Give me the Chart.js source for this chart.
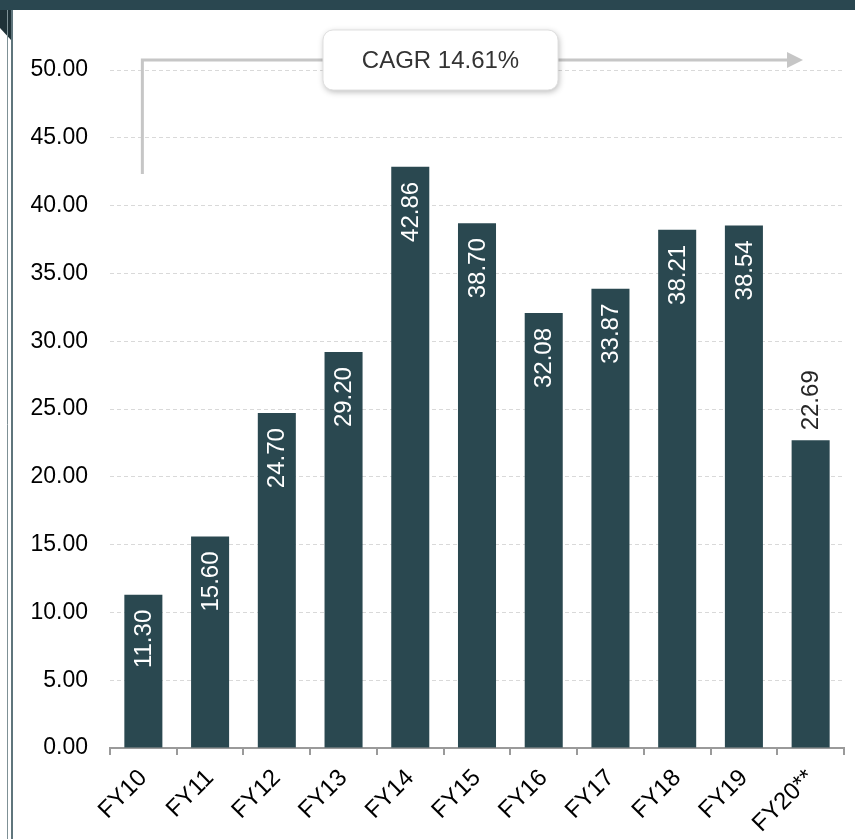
<!DOCTYPE html>
<html>
<head>
<meta charset="utf-8">
<script src="https://cdn.jsdelivr.net/npm/chart.js@4"></script>
<style>
  html, body { margin: 0; padding: 0; background: #ffffff; }
  #wrap { position: relative; width: 855px; height: 839px; }
</style>
</head>
<body>
<div id="wrap"><canvas id="c" width="855" height="839"></canvas></div>
<script>
const categories = ["FY10", "FY11", "FY12", "FY13", "FY14", "FY15", "FY16", "FY17", "FY18", "FY19", "FY20**"];
const values = [11.30, 15.60, 24.70, 29.20, 42.86, 38.70, 32.08, 33.87, 38.21, 38.54, 22.69];
const yTicks = [0, 5, 10, 15, 20, 25, 30, 35, 40, 45, 50];
const cagrText = "CAGR 14.61%";

const BAR = "#2a4850";
const FONT = "'Liberation Sans', Arial, sans-serif";

const decor = {
  id: "decor",
  beforeDraw(chart) {
    const ctx = chart.ctx;
    ctx.save();
    ctx.fillStyle = "#ffffff";
    ctx.fillRect(0, 0, chart.width, chart.height);
    ctx.fillStyle = "#2a4750";
    ctx.fillRect(0, 0, chart.width, 10);
    ctx.fillStyle = "#1f3238";
    ctx.beginPath();
    ctx.moveTo(0, 10);
    ctx.lineTo(11, 10);
    ctx.lineTo(11, 40);
    ctx.lineTo(0, 28);
    ctx.closePath();
    ctx.fill();
    ctx.strokeStyle = "#7f9196";
    ctx.lineWidth = 1;
    ctx.beginPath();
    ctx.moveTo(7.5, 10);
    ctx.lineTo(7.5, chart.height);
    ctx.stroke();
    ctx.strokeStyle = "#2a4750";
    ctx.lineWidth = 1.5;
    ctx.beginPath();
    ctx.moveTo(12, 10);
    ctx.lineTo(12, chart.height);
    ctx.stroke();
    ctx.restore();
  },
  afterDatasetsDraw(chart) {
    const ctx = chart.ctx;
    const meta = chart.getDatasetMeta(0);
    ctx.save();
    ctx.font = "24px " + FONT;
    ctx.textBaseline = "middle";
    meta.data.forEach((bar, i) => {
      const txt = values[i].toFixed(2);
      ctx.save();
      if (i === values.length - 1) {
        ctx.translate(bar.x + 1, bar.y - 10);
        ctx.rotate(-Math.PI / 2);
        ctx.textAlign = "left";
        ctx.fillStyle = "#262626";
      } else {
        ctx.translate(bar.x + 1, bar.y + 15);
        ctx.rotate(-Math.PI / 2);
        ctx.textAlign = "right";
        ctx.fillStyle = "#ffffff";
      }
      ctx.fillText(txt, 0, 0);
      ctx.restore();
    });
    ctx.restore();
  },
  afterDraw(chart) {
    const ctx = chart.ctx;
    const x0 = chart.scales.x.getPixelForValue(0) - 1;
    const yTop = 60;
    const yBot = 174;
    const xEnd = 803;
    ctx.save();
    ctx.strokeStyle = "#c6c6c6";
    ctx.lineWidth = 3;
    ctx.beginPath();
    ctx.moveTo(x0, yBot);
    ctx.lineTo(x0, yTop);
    ctx.lineTo(xEnd - 14, yTop);
    ctx.stroke();
    ctx.fillStyle = "#c6c6c6";
    ctx.beginPath();
    ctx.moveTo(xEnd - 16, yTop - 8);
    ctx.lineTo(xEnd, yTop);
    ctx.lineTo(xEnd - 16, yTop + 8);
    ctx.closePath();
    ctx.fill();
    const bx = 323, by = 30, bw = 235, bh = 60, r = 10;
    ctx.shadowColor = "rgba(0,0,0,0.28)";
    ctx.shadowBlur = 6;
    ctx.shadowOffsetX = 1;
    ctx.shadowOffsetY = 2;
    ctx.fillStyle = "#ffffff";
    ctx.beginPath();
    ctx.roundRect(bx, by, bw, bh, r);
    ctx.fill();
    ctx.shadowColor = "transparent";
    ctx.strokeStyle = "#e0e0e0";
    ctx.lineWidth = 1;
    ctx.stroke();
    ctx.fillStyle = "#333333";
    ctx.font = "24px " + FONT;
    ctx.textAlign = "center";
    ctx.textBaseline = "middle";
    ctx.fillText(cagrText, bx + bw / 2, by + bh / 2 + 1);
    ctx.restore();
  }
};

new Chart(document.getElementById("c"), {
  type: "bar",
  data: {
    labels: categories,
    datasets: [{
      data: values,
      backgroundColor: BAR,
      borderWidth: 0,
      barPercentage: 0.57,
      categoryPercentage: 1.0
    }]
  },
  options: {
    responsive: false,
    animation: false,
    devicePixelRatio: 1,
    layout: { padding: { top: 70, right: 11, bottom: 0, left: 0 } },
    plugins: { legend: { display: false }, tooltip: { enabled: false } },
    scales: {
      x: {
        offset: true,
        grid: {
          offset: true,
          drawOnChartArea: false,
          drawTicks: true,
          tickLength: 7,
          color: "#9a9a9a",
          lineWidth: 2
        },
        border: { display: true, color: "#9a9a9a", width: 2 },
        ticks: {
          color: "#000000",
          font: { family: FONT, size: 24 },
          maxRotation: 45,
          minRotation: 45,
          padding: 9,
          autoSkip: false
        },
        afterFit(scale) { scale.height = 91; scale.paddingLeft = 0; scale.paddingRight = 0; }
      },
      y: {
        min: 0,
        max: 50,
        afterBuildTicks(scale) { scale.ticks = yTicks.map(v => ({ value: v })); },
        grid: {
          drawTicks: false,
          color: "#d9d9d9",
          lineWidth: 1
        },
        border: { display: false, dash: [4, 3] },
        ticks: {
          color: "#000000",
          font: { family: FONT, size: 23 },
          padding: 22,
          callback: v => Number(v).toFixed(2)
        },
        afterFit(scale) { scale.width = 110; }
      }
    }
  },
  plugins: [decor]
});
</script>
</body>
</html>
